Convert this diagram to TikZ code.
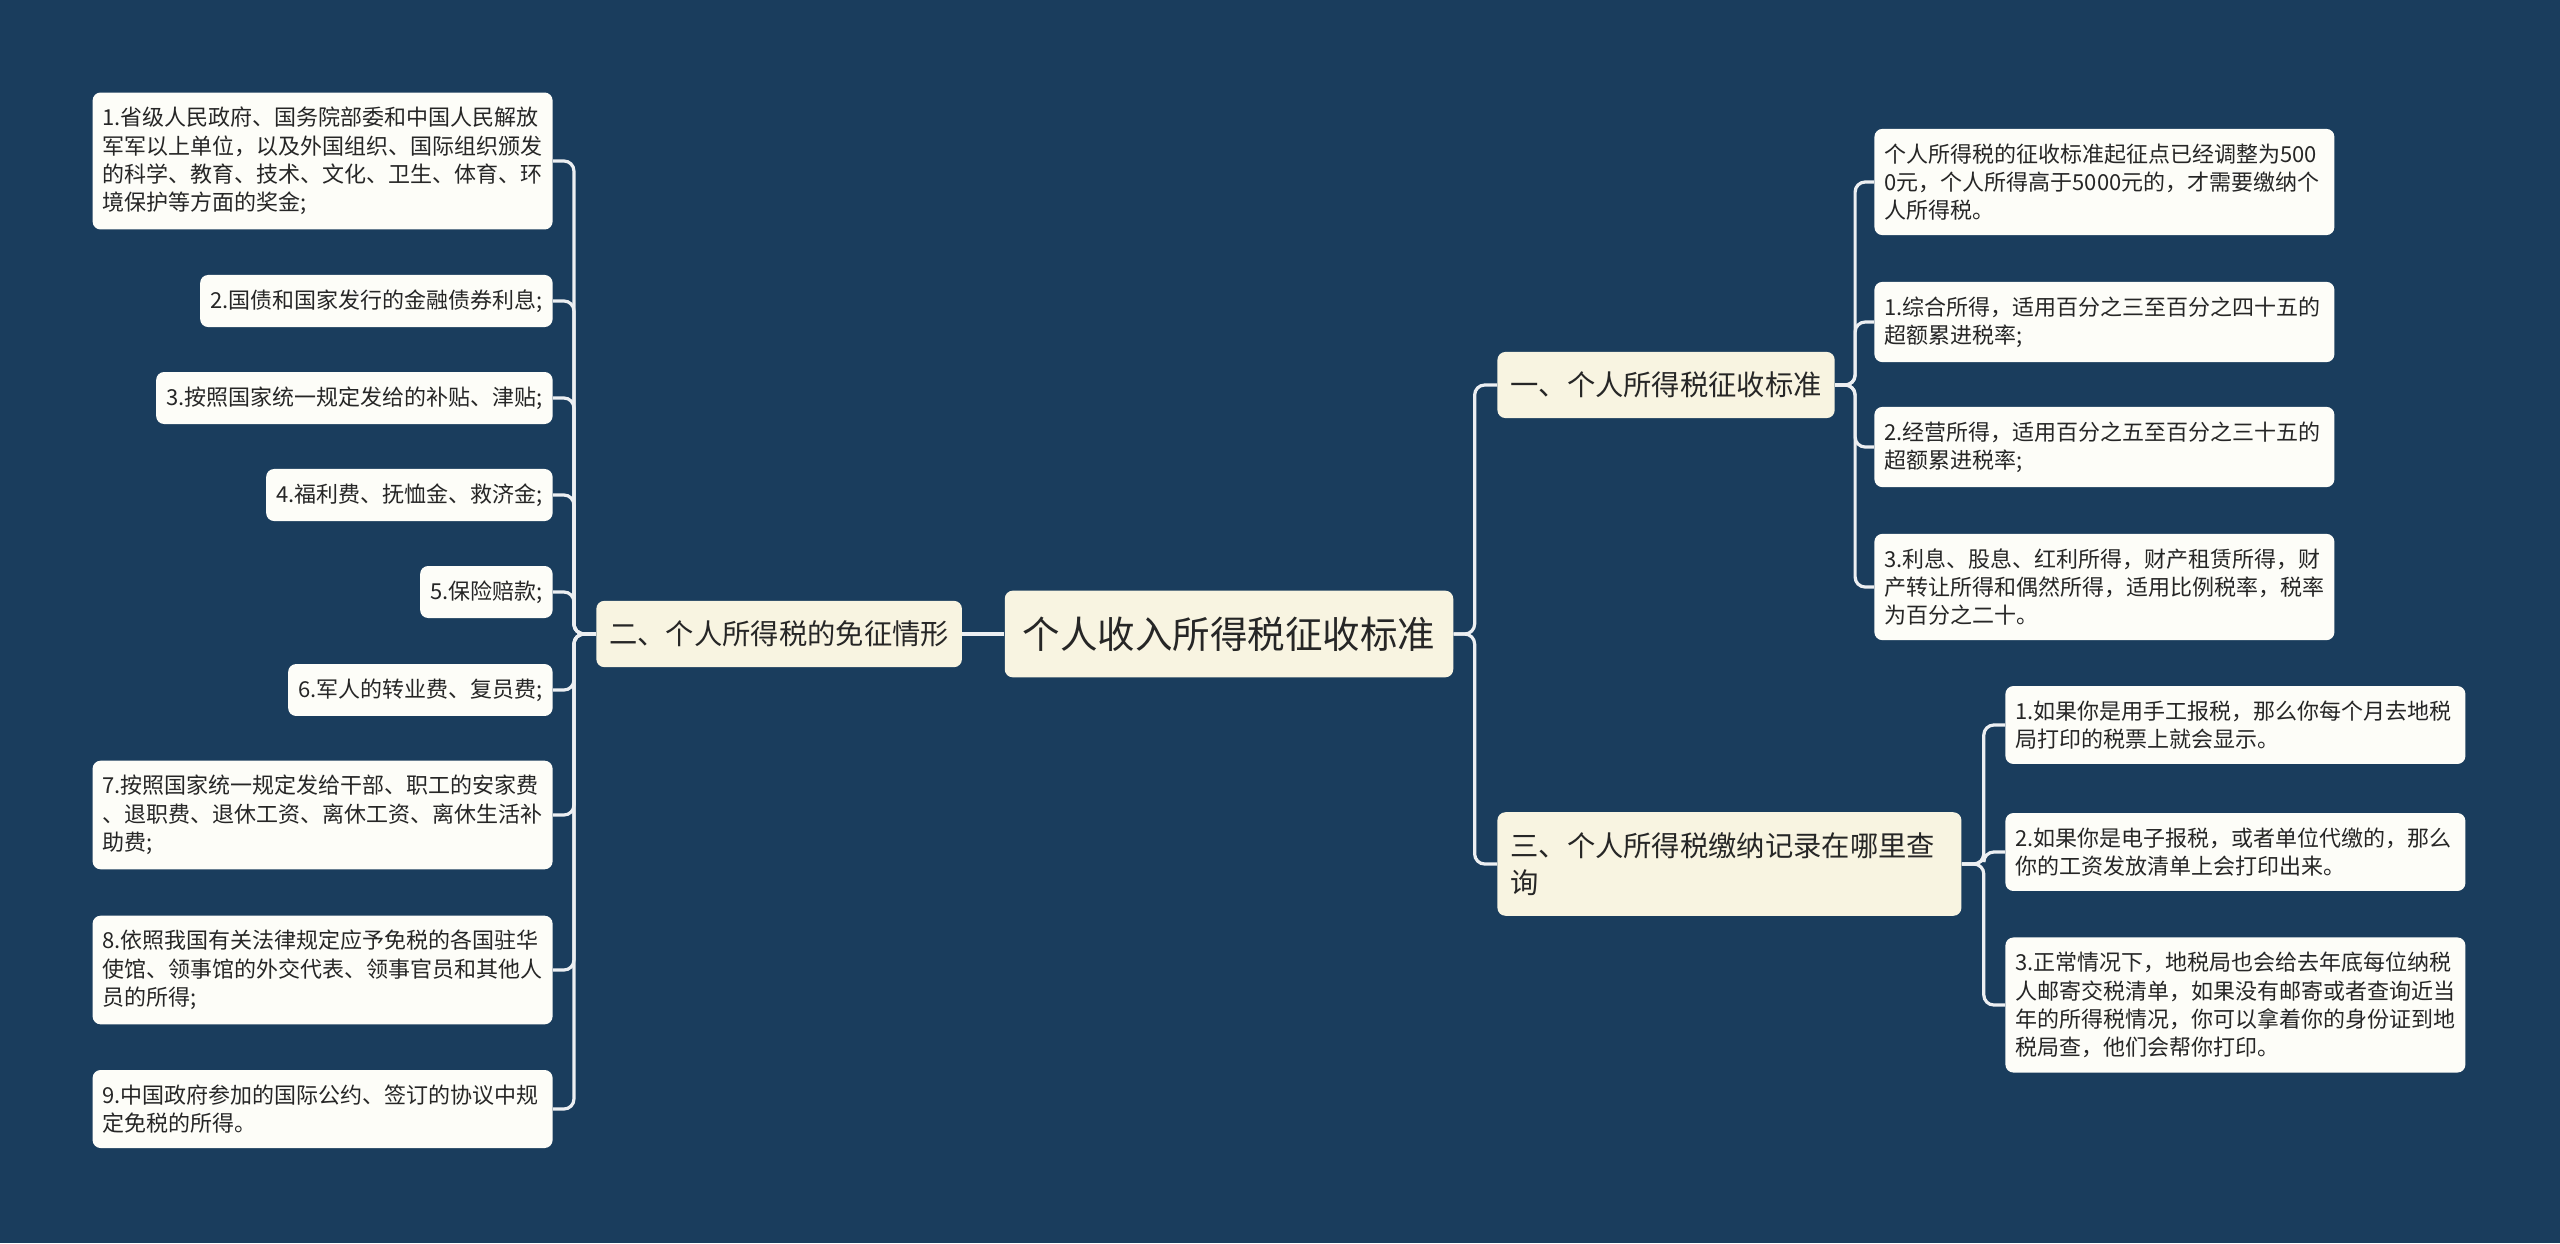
\documentclass[tikz,border=0pt]{standalone}
\usepackage{fontspec}
\setmainfont{Noto Sans CJK SC}
\usetikzlibrary{positioning}
\definecolor{bgblue}{RGB}{26,61,93}
\definecolor{rootfill}{RGB}{248,244,225}
\definecolor{leaffill}{RGB}{253,253,248}
\definecolor{inkgray}{RGB}{38,38,38}
\definecolor{linkwhite}{RGB}{236,239,242}

\begin{document}
\begin{tikzpicture}[x=0.5pt, y=-0.5pt,
    rootbox/.style={fill=rootfill, rounded corners=4pt, text=inkgray, font=\fontsize{18.75}{22}\selectfont, inner xsep=9pt, inner ysep=13pt},
    branchbox/.style={fill=rootfill, rounded corners=4pt, text=inkgray, font=\fontsize{14.15}{18.75}\selectfont, inner xsep=6.5pt, inner ysep=10pt, align=left},
    leafbox/.style={fill=leaffill, rounded corners=4pt, text=inkgray, font=\fontsize{11}{14.15}\selectfont, inner xsep=5pt, inner ysep=7.3pt, align=left},
    wideleaf/.style={leafbox, text width=220pt},
    link/.style={draw=linkwhite, line width=1.6pt, rounded corners=5pt}]
    \useasboundingbox (0,0) rectangle (2560,1243);
    \fill[bgblue] (0,0) rectangle (2560,1243);

    \node[rootbox] (root) at (1229,634) {个人收入所得税征收标准};
    \node[branchbox, left=21pt of root] (mianzheng) {二、个人所得税的免征情形};
    \node[branchbox, anchor=west] (biaozhun) at (1497,385) {一、个人所得税征收标准};
    \node[branchbox, anchor=west, text width=219pt] (chaxun) at (1497,864) {三、个人所得税缴纳记录在哪里查\\询};

    \node[wideleaf, anchor=east] (mz1) at (553,161) {1.省级人民政府、国务院部委和中国人民解放\\军军以上单位，以及外国组织、国际组织颁发\\的科学、教育、技术、文化、卫生、体育、环\\境保护等方面的奖金;};
    \node[leafbox, anchor=east] (mz2) at (553,301) {2.国债和国家发行的金融债券利息;};
    \node[leafbox, anchor=east] (mz3) at (553,398) {3.按照国家统一规定发给的补贴、津贴;};
    \node[leafbox, anchor=east] (mz4) at (553,495) {4.福利费、抚恤金、救济金;};
    \node[leafbox, anchor=east] (mz5) at (553,592) {5.保险赔款;};
    \node[leafbox, anchor=east] (mz6) at (553,690) {6.军人的转业费、复员费;};
    \node[wideleaf, anchor=east] (mz7) at (553,815) {7.按照国家统一规定发给干部、职工的安家费\\、退职费、退休工资、离休工资、离休生活补\\助费;};
    \node[wideleaf, anchor=east] (mz8) at (553,970) {8.依照我国有关法律规定应予免税的各国驻华\\使馆、领事馆的外交代表、领事官员和其他人\\员的所得;};
    \node[wideleaf, anchor=east] (mz9) at (553,1109) {9.中国政府参加的国际公约、签订的协议中规\\定免税的所得。};

    \node[wideleaf, anchor=west] (bz0) at (1874,182) {个人所得税的征收标准起征点已经调整为500\\0元，个人所得高于5000元的，才需要缴纳个\\人所得税。};
    \node[wideleaf, anchor=west] (bz1) at (1874,322) {1.综合所得，适用百分之三至百分之四十五的\\超额累进税率;};
    \node[wideleaf, anchor=west] (bz2) at (1874,447) {2.经营所得，适用百分之五至百分之三十五的\\超额累进税率;};
    \node[wideleaf, anchor=west] (bz3) at (1874,587) {3.利息、股息、红利所得，财产租赁所得，财\\产转让所得和偶然所得，适用比例税率，税率\\为百分之二十。};

    \node[wideleaf, anchor=west] (cx1) at (2005,725) {1.如果你是用手工报税，那么你每个月去地税\\局打印的税票上就会显示。};
    \node[wideleaf, anchor=west] (cx2) at (2005,852) {2.如果你是电子报税，或者单位代缴的，那么\\你的工资发放清单上会打印出来。};
    \node[wideleaf, anchor=west] (cx3) at (2005,1005) {3.正常情况下，地税局也会给去年底每位纳税\\人邮寄交税清单，如果没有邮寄或者查询近当\\年的所得税情况，你可以拿着你的身份证到地\\税局查，他们会帮你打印。};

    \draw[link] (root) -- (mianzheng);
    \draw[link] (root.east) -- ++(21,0) |- (biaozhun.west);
    \draw[link] (root.east) -- ++(21,0) |- (chaxun.west);
    \foreach \leaf in {mz1,mz2,mz3,mz4,mz5,mz6,mz7,mz8,mz9}
        \draw[link] (mianzheng.west) -- ++(-22,0) |- (\leaf.east);
    \foreach \leaf in {bz0,bz1,bz2,bz3}
        \draw[link] (biaozhun.east) -- ++(20,0) |- (\leaf.west);
    \foreach \leaf in {cx1,cx2,cx3}
        \draw[link] (chaxun.east) -- ++(22,0) |- (\leaf.west);
\end{tikzpicture}
\end{document}
